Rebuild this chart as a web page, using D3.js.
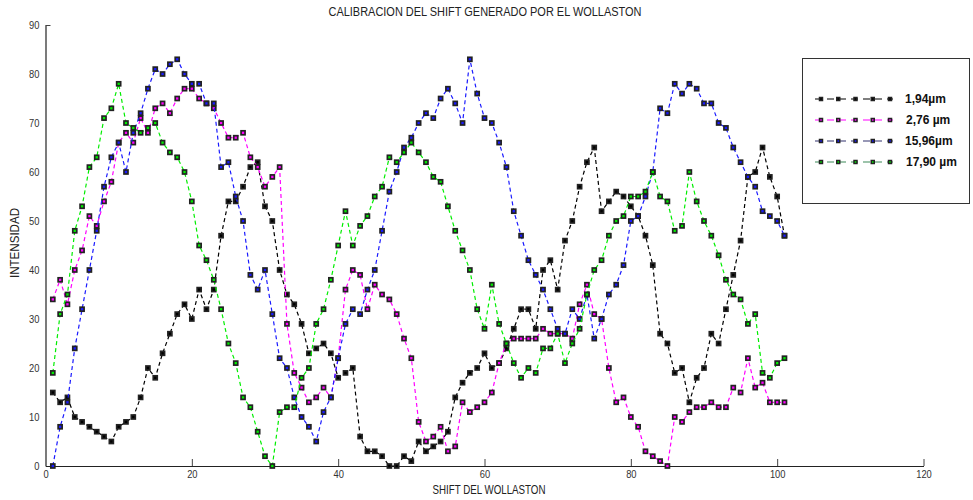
<!DOCTYPE html>
<html>
<head>
<meta charset="utf-8">
<script src="https://cdn.jsdelivr.net/npm/d3@7"></script>
<style>
  body { margin: 0; background: #fff; }
  svg { display: block; }
</style>
</head>
<body>
<svg id="chart" width="973" height="500"></svg>
<script>
// Shift positions (x) and intensity per wavelength
const shift = d3.range(1, 102);

const s194 = [15,13,14,10,9,8,7,6,5,8, 9,10,14,20,18,23,27,31,33,30,
  36,32,36,47,54,54,57,61,62,53, 50,40,35,33,29,23,24,25,23,18,
  19,20,6,3,3,2,0,0,2,1, 5,3,4,5,7,14,17,19,20,23,
  20,21,24,28,32,32,28,40,42,36, 46,50,57,62,65,52,54,56,55,53,
  51,47,41,27,25,19,20,13,18,20, 27,25,32,39,46,59,60,65,59,55, 47];

const s276 = [34,38,33,40,44,51,49,54,58,66, 68,66,71,68,73,74,72,75,77,77,
  75,74,73,70,67,67,68,63,61,57, 59,61,29,19,16,13,14,16,14,22,
  36,40,39,32,37,35,34,31,26,22, 9,5,6,8,3,4,13,11,12,13,
  15,21,25,26,26,26,26,28,27,27, 27,26,33,37,31,30,20,13,14,10,
  8,3,2,1,0,10,9,11,12,12, 13,12,12,16,15,22,16,17,13,13, 13];

const s1596 = [0,8,13,24,32,40,48,57,63,66, 60,68,72,77,81,80,82,83,80,78,
  78,74,74,61,62,55,50,39,36,40, 31,22,20,14,10,8,5,11,14,22,
  29,32,31,36,40,48,56,60,65,67, 70,72,71,75,77,74,70,83,76,71,
  70,66,61,52,47,42,39,36,32,28, 27,32,30,35,26,30,35,37,41,50,
  51,55,60,73,72,78,76,78,77,74, 74,70,69,65,62,59,57,52,51,50, 47];

const s1790 = [19,31,35,48,53,61,63,71,73,78, 70,69,68,69,70,66,64,63,60,54,
  45,42,38,32,25,21,14,12,7,2, 0,11,12,12,18,20,29,32,38,45,
  52,45,49,51,55,57,63,62,64,66, 64,62,59,58,53,48,44,40,32,28,
  37,29,25,21,18,20,19,24,24,27, 21,25,28,35,40,42,47,50,51,55,
  55,56,60,55,54,48,49,60,54,50, 47,43,38,35,34,29,31,19,18,21, 22];

const labels = ["1,94\u00b5m", "2,76 \u00b5m", "15,96\u00b5m", "17,90 \u00b5m"];
const colors = ["#000000", "#ff00ff", "#1a1aff", "#00ee00"];
const legendColors = ["#000000", "#ff00ff", "#33336e", "#3c8a58"];
const xTicks = [0, 20, 40, 60, 80, 100, 120];
const yTicks = [0, 10, 20, 30, 40, 50, 60, 70, 80, 90];

const series = [s194, s276, s1596, s1790].map((vals, i) => ({
  label: labels[i],
  color: colors[i],
  legendColor: legendColors[i],
  points: vals.map((v, j) => ({ x: shift[j], y: v }))
}));

const svg = d3.select("#chart");
const font = "Liberation Sans, Arial, sans-serif";

const x = d3.scaleLinear().domain([0, 120]).range([45.5, 923.5]);
const y = d3.scaleLinear().domain([0, 90]).range([466, 25]);

// Axes
const xAxis = svg.append("g")
  .attr("transform", `translate(0,${y(0)})`)
  .call(d3.axisBottom(x).tickValues(xTicks).tickSizeInner(-7).tickSizeOuter(0).tickPadding(4));
const yAxis = svg.append("g")
  .attr("transform", `translate(${x(0)},0)`)
  .call(d3.axisLeft(y).tickValues(yTicks).tickSizeInner(-5).tickSizeOuter(0).tickPadding(6));

[xAxis, yAxis].forEach(a => {
  a.select(".domain").attr("stroke", "#222").attr("stroke-width", 1.2);
  a.selectAll(".tick line").attr("stroke", "#444");
  a.selectAll("text").attr("font-size", 11).attr("fill", "#333")
    .attr("font-family", font);
});
// narrow look of the original tick labels
xAxis.selectAll(".tick text").attr("transform", "scale(0.85,1)");
yAxis.selectAll(".tick text").attr("transform", "translate(-1,0) scale(0.85,1)");
// only the top y tick shows a visible mark
yAxis.selectAll(".tick line").attr("stroke-opacity", d => d === 90 ? 1 : 0);
xAxis.selectAll(".tick line").attr("stroke-opacity", d => d === 0 ? 0 : 1);

// Titles
svg.append("text")
  .attr("x", 485).attr("y", 16)
  .attr("text-anchor", "middle")
  .attr("font-family", font)
  .attr("font-size", 12).attr("fill", "#222")
  .attr("textLength", 313).attr("lengthAdjust", "spacingAndGlyphs")
  .text("CALIBRACION DEL SHIFT GENERADO POR EL WOLLASTON");
svg.append("text")
  .attr("x", 489).attr("y", 494)
  .attr("text-anchor", "middle")
  .attr("font-family", font)
  .attr("font-size", 12).attr("fill", "#222")
  .attr("textLength", 113).attr("lengthAdjust", "spacingAndGlyphs")
  .text("SHIFT DEL WOLLASTON");
svg.append("text")
  .attr("transform", "translate(19,243) rotate(-90)")
  .attr("text-anchor", "middle")
  .attr("font-family", font)
  .attr("font-size", 12).attr("fill", "#222")
  .attr("textLength", 70).attr("lengthAdjust", "spacingAndGlyphs")
  .text("INTENSIDAD");

// Lines and markers
const line = d3.line().x(d => x(d.x)).y(d => y(d.y));

const groups = svg.append("g")
  .selectAll("g")
  .data(series)
  .join("g");

groups.append("path")
  .attr("fill", "none")
  .attr("stroke", d => d.color)
  .attr("stroke-width", 1.2)
  .attr("stroke-dasharray", "4,3")
  .attr("d", d => line(d.points));

groups.selectAll("rect")
  .data(d => d.points.map(p => ({ ...p, color: d.color })))
  .join("rect")
  .attr("x", d => x(d.x) - 2)
  .attr("y", d => y(d.y) - 2)
  .attr("width", 4)
  .attr("height", 4)
  .attr("fill", d => d.color)
  .attr("stroke", "#222")
  .attr("stroke-width", 1.7);

// Legend
const legend = svg.append("g");
legend.append("rect")
  .attr("x", 802.5).attr("y", 58.5)
  .attr("width", 167).attr("height", 145)
  .attr("fill", "#fff").attr("stroke", "#333").attr("stroke-width", 1);

const lx = d3.scaleLinear().domain([0, 4]).range([821, 890]);
const ly = d3.scalePoint().domain(labels).range([99, 162]);

const items = legend.selectAll("g.item")
  .data(series)
  .join("g")
  .attr("class", "item")
  .attr("transform", d => `translate(0,${ly(d.label)})`);

items.append("line")
  .attr("x1", 815).attr("x2", 893)
  .attr("stroke", d => d.legendColor)
  .attr("stroke-width", 1.2)
  .attr("stroke-dasharray", "7,5");

items.selectAll("rect")
  .data(d => d3.range(5).map(k => ({ k, color: d.color })))
  .join("rect")
  .attr("x", d => lx(d.k) - 1.5)
  .attr("y", -1.5)
  .attr("width", 3).attr("height", 3)
  .attr("fill", d => d.color)
  .attr("stroke", "#222")
  .attr("stroke-width", 1.5);

items.append("text")
  .attr("x", (d, i) => i === 0 || i === 2 ? 905 : 906)
  .attr("y", 4)
  .attr("font-family", font)
  .attr("font-weight", "bold")
  .attr("font-size", 12)
  .attr("fill", "#111")
  .text(d => d.label);
</script>
</body>
</html>
